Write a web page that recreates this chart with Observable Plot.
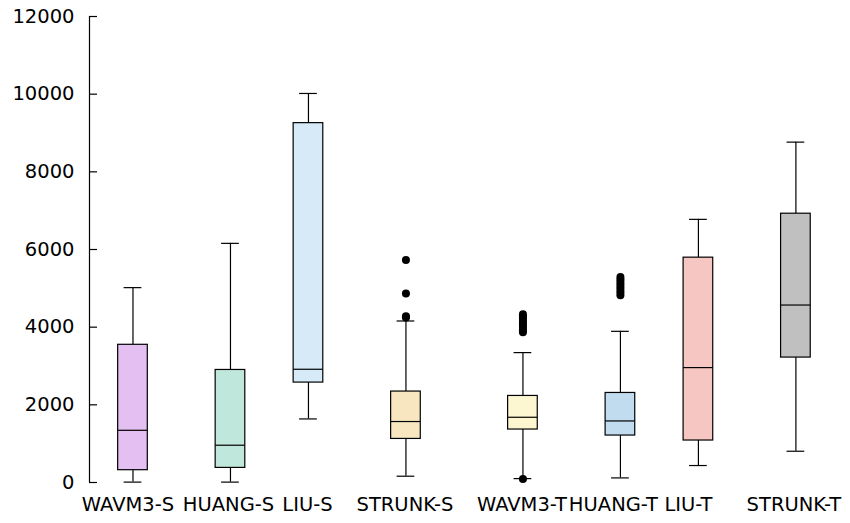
<!DOCTYPE html>
<html>
<head>
<meta charset="utf-8">
<script src="https://cdn.jsdelivr.net/npm/d3@7"></script>
<script src="https://cdn.jsdelivr.net/npm/@observablehq/plot@0.6"></script>
<style>
  html, body { margin: 0; padding: 0; background: #ffffff; }
  #chart svg { display: block; }
</style>
</head>
<body>
<div id="chart"></div>
<script>
// ---- data ----
const categories = ["WAVM3-S", "HUANG-S", "LIU-S", "STRUNK-S", "WAVM3-T", "HUANG-T", "LIU-T", "STRUNK-T"];
const slots      = [1, 2, 2.8, 3.8, 5, 6, 6.8, 7.8];
const whiskerLow = [10, 10, 1637, 162, 100, 118, 437, 805];
const q1         = [317, 376, 2573, 1122, 1364, 1209, 1081, 3217];
const median     = [1344, 960, 2916, 1570, 1680, 1585, 2959, 4570];
const q3         = [3546, 2898, 9254, 2342, 2229, 2306, 5790, 6922];
const whiskerHigh= [5018, 6158, 10018, 4159, 3345, 3893, 6776, 8765];
const outlierCat = ["STRUNK-S","STRUNK-S","STRUNK-S","STRUNK-S",
  "WAVM3-T","WAVM3-T","WAVM3-T","WAVM3-T","WAVM3-T","WAVM3-T","WAVM3-T","WAVM3-T","WAVM3-T","WAVM3-T",
  "HUANG-T","HUANG-T","HUANG-T","HUANG-T","HUANG-T","HUANG-T","HUANG-T","HUANG-T"];
const outlierVal = [5728, 4864, 4280, 4246,
  4330, 4280, 4220, 4160, 4100, 4040, 3980, 3920, 3870, 90,
  5290, 5230, 5160, 5100, 5030, 4960, 4890, 4820];
const yTicks = [0, 2000, 4000, 6000, 8000, 10000, 12000];

// ---- styles ----
const fills      = ["#e3c0f1", "#c0e7db", "#d6eaf8", "#f8e6c1", "#fcf7d1", "#c0dcee", "#f6c6c3", "#c0c0c0"];
const labelShift = [-5, -2, -1, -1, -1, -7, -10, -2];

// ---- build ----
const rows = categories.map((c, i) => ({
  cat: c, pos: slots[i], lo: whiskerLow[i], q1: q1[i], med: median[i], q3: q3[i], hi: whiskerHigh[i],
  fill: fills[i], shift: labelShift[i]
}));
const posOf = Object.fromEntries(categories.map((c, i) => [c, slots[i]]));
const outliers = outlierCat.map((c, i) => ({pos: posOf[c], v: outlierVal[i]}));

const xLo = 0.554, xHi = 8.36;
const boxHalf = 0.152, capHalf = 0.091;
const font = "DejaVu Sans, sans-serif";

const labelMarks = rows.map(r =>
  Plot.text([r], {x: "pos", y: 0, text: "cat", dy: 22, dx: r.shift, fontSize: 19.5, fill: "#000", textAnchor: "middle"})
);

const chart = Plot.plot({
  width: 850,
  height: 523,
  marginLeft: 89,
  marginRight: 0,
  marginTop: 16,
  marginBottom: 41,
  style: {fontFamily: font, background: "#ffffff"},
  x: {domain: [xLo, xHi], axis: null},
  y: {domain: [0, 12000], axis: null},
  marks: [
    // y axis line
    Plot.ruleX([xLo], {y1: 0, y2: 12000, stroke: "#000", strokeWidth: 1.2}),
    // y ticks (inward)
    Plot.ruleY(yTicks, {y: d => d, x1: xLo, x2: xLo + 0.082, stroke: "#000", strokeWidth: 1.2}),
    Plot.text(yTicks, {x: xLo, y: d => d, text: d => String(d), textAnchor: "end", dx: -15, fontSize: 19.5, fill: "#000"}),
    // whiskers
    Plot.ruleX(rows, {x: "pos", y1: "q3", y2: "hi", stroke: "#000", strokeWidth: 1.2}),
    Plot.ruleX(rows, {x: "pos", y1: "lo", y2: "q1", stroke: "#000", strokeWidth: 1.2}),
    Plot.ruleY(rows, {y: "hi", x1: d => d.pos - capHalf, x2: d => d.pos + capHalf, stroke: "#000", strokeWidth: 1.2}),
    Plot.ruleY(rows, {y: "lo", x1: d => d.pos - capHalf, x2: d => d.pos + capHalf, stroke: "#000", strokeWidth: 1.2}),
    // boxes
    Plot.rect(rows, {x1: d => d.pos - boxHalf, x2: d => d.pos + boxHalf, y1: "q1", y2: "q3", fill: "fill", stroke: "#000", strokeWidth: 1.2}),
    // medians
    Plot.ruleY(rows, {y: "med", x1: d => d.pos - boxHalf, x2: d => d.pos + boxHalf, stroke: "#000", strokeWidth: 1.2}),
    // outliers
    Plot.dot(outliers, {x: "pos", y: "v", r: 4, fill: "#000", stroke: "none"}),
    // category labels
    ...labelMarks
  ]
});
document.getElementById("chart").appendChild(chart);
</script>
</body>
</html>
